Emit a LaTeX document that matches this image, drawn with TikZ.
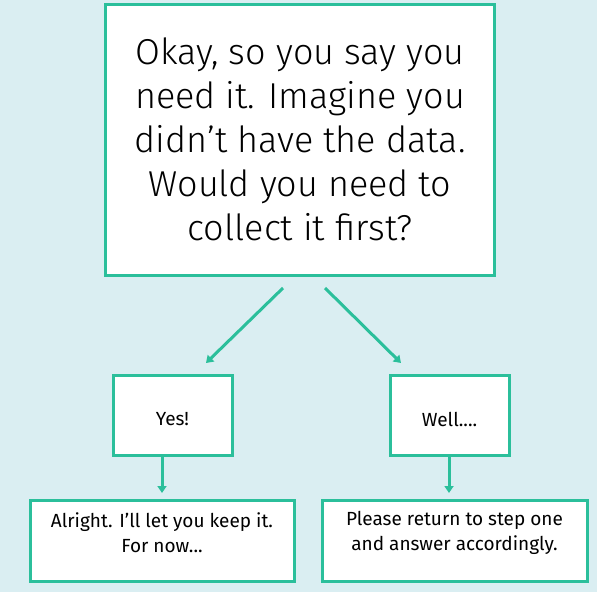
\documentclass[tikz,border=0pt]{standalone}
\usepackage{fontspec}
\setmainfont{Fira Sans}[UprightFont=* Light]
\newfontfamily\smallfam{Fira Sans}
\usetikzlibrary{arrows.meta}
\definecolor{bgc}{HTML}{DAEEF2}
\definecolor{teal1}{HTML}{2BBF9B}
\tikzset{
  box/.style={draw=teal1, line width=3pt, fill=white},
  conn/.style={draw=teal1, line width=3pt, -{Triangle[length=7pt,width=9pt]}},
  small/.style={font=\smallfam\fontsize{19}{25}\selectfont, align=center},
}
\begin{document}
\begin{tikzpicture}[x=1pt,y=-1pt]
\fill[bgc] (0,0) rectangle (597,592);
\useasboundingbox (0,0) rectangle (597,592);
% boxes
\draw[box] (105,4) rectangle (494,275);
\node[align=center, font=\fontsize{36}{44}\selectfont, text=black] (q) at (300,139)
  {Okay, so you say you\\need it. Imagine you\\didn’t have the data.\\Would you need to\\collect it first?};
\coordinate (qa) at (283,288);
\coordinate (qb) at (325,288);
\draw[box] (113,375) rectangle (232,455);
\node[small] (yes) at (172.5,419) {Yes!};
\draw[box] (390,375) rectangle (509,455);
\node[small] (well) at (449.5,419) {Well....};
\draw[box] (30,500) rectangle (294,581);
\node[small] (alr) at (162,533) {Alright. I’ll let you keep it.\\For now...};
\draw[box] (322,500) rectangle (587,581);
\node[small] (ple) at (454.5,533) {Please return to step one\\and answer accordingly.};
\coordinate (yt) at (206,363);
\coordinate (wt) at (401,363);
\coordinate (yb) at (162,455);
\coordinate (ye) at (162,493);
\coordinate (wb) at (449,455);
\coordinate (we) at (449,493);
\draw[conn] (qa) -- (yt);
\draw[conn] (qb) -- (wt);
\draw[conn] (yb) -- (ye);
\draw[conn] (wb) -- (we);
\end{tikzpicture}
\end{document}
